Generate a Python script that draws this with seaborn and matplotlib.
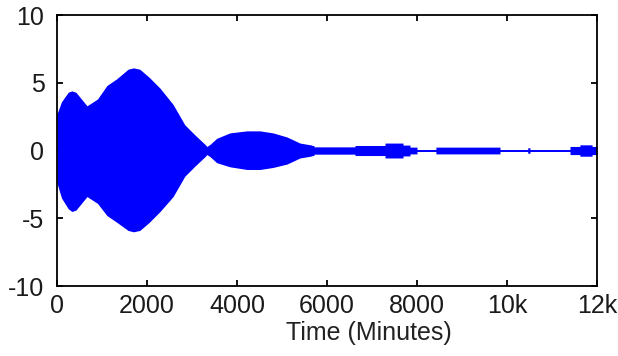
import matplotlib
matplotlib.use("Agg")
import matplotlib.pyplot as plt
import numpy as np
import seaborn as sns

# envelope of the oscillation (minutes, amplitude)
t_env = [0, 100, 250, 330, 420, 667, 900, 1110, 1330, 1580, 1700, 1840, 2050, 2290,
         2580, 2840, 3050, 3290, 3330, 3400, 3550, 3840, 4220, 4510, 4800, 5110,
         5400, 5666, 5667, 5710, 5711, 6622, 6623, 7289, 7290, 7689, 7690, 7844,
         7845, 8000, 8001, 8420, 8421, 9844, 9845, 10460, 10461, 10510, 10511,
         11400, 11401, 11620, 11621, 11890, 11891, 12000]
upper = [2.7, 3.6, 4.3, 4.4, 4.3, 3.3, 3.8, 4.8, 5.3, 6.0, 6.1, 6.0, 5.4, 4.6,
         3.4, 1.9, 1.2, 0.45, 0.3, 0.45, 0.9, 1.3, 1.45, 1.45, 1.3, 1.0,
         0.55, 0.4, 0.37, 0.37, 0.27, 0.27, 0.37, 0.37, 0.55, 0.55, 0.4, 0.4,
         0.25, 0.25, 0.07, 0.07, 0.25, 0.25, 0.07, 0.07, 0.2, 0.2, 0.07,
         0.07, 0.3, 0.3, 0.42, 0.42, 0.3, 0.3]
lower = [-2.4, -3.5, -4.3, -4.5, -4.4, -3.4, -3.9, -4.8, -5.3, -5.9, -6.0, -5.9, -5.3, -4.5,
         -3.4, -1.9, -1.2, -0.45, -0.3, -0.45, -0.9, -1.2, -1.4, -1.4, -1.25, -1.0,
         -0.55, -0.4, -0.37, -0.37, -0.27, -0.27, -0.37, -0.37, -0.55, -0.55, -0.4, -0.4,
         -0.25, -0.25, -0.07, -0.07, -0.25, -0.25, -0.07, -0.07, -0.2, -0.2, -0.07,
         -0.07, -0.3, -0.3, -0.42, -0.42, -0.3, -0.3]

x_ticks = [0, 2000, 4000, 6000, 8000, 10000, 12000]
x_tick_labels = ["0", "2000", "4000", "6000", "8000", "10k", "12k"]
y_ticks = [-10, -5, 0, 5, 10]

sns.set_style("ticks")
plt.rcParams['font.family'] = ['Liberation Sans', 'DejaVu Sans']
plt.rcParams['axes.unicode_minus'] = False

fig = plt.figure(figsize=(6.18, 3.56), dpi=100)
ax = fig.add_axes([0.0922, 0.1966, 0.8738, 0.7612])

ax.fill_between(t_env, lower, upper, color="#0000ff", linewidth=0)
sns.lineplot(x=[0, 12000], y=[0, 0], color="#0000ff", linewidth=1.2, ax=ax)

ax.set_xlim(0, 12000)
ax.set_ylim(-10, 10)
ax.set_xticks(x_ticks)
ax.set_xticklabels(x_tick_labels)
ax.set_yticks(y_ticks)
ax.tick_params(direction="in", length=4, width=1.3, top=True, right=True,
               labelsize=18, colors="black", labelcolor="#1a1a1a", pad=6)
ax.tick_params(axis="y", pad=9)
ax.tick_params(top=True, right=True, labeltop=False, labelright=False)
for s in ax.spines.values():
    s.set_visible(True)
    s.set_linewidth(1.3)
    s.set_color("black")

ax.set_xlabel("Time (Minutes)", fontsize=18, color="#222222")
ax.xaxis.set_label_coords(0.578, -0.13)

fig.savefig("out.png", dpi=100)
